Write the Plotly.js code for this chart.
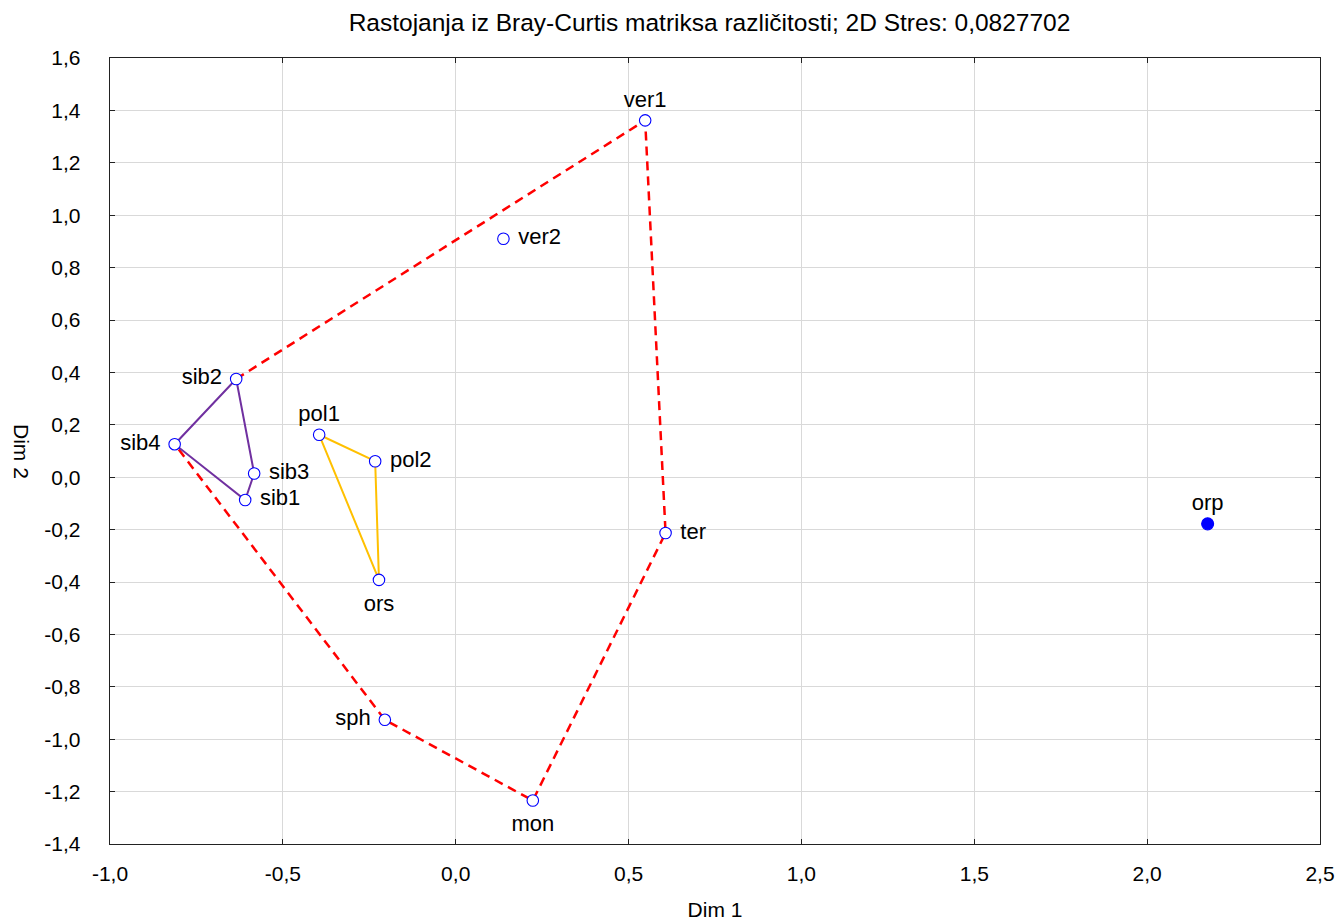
<!DOCTYPE html>
<html>
<head>
<meta charset="utf-8">
<script src="https://cdn.plot.ly/plotly-3.0.1.min.js"></script>
<style>html,body{margin:0;padding:0;background:#fff;}#chart{width:1342px;height:922px;}</style>
</head>
<body>
<div id="chart"></div>
<script>
// Sample names and NMDS coordinates (Dim 1, Dim 2)
const names = ["ver1","ver2","sib2","sib4","sib3","sib1","pol1","pol2","ors","ter","orp","sph","mon"];
const dim1  = [0.548, 0.138, -0.635, -0.813, -0.583, -0.609, -0.395, -0.233, -0.222, 0.607, 2.175, -0.205, 0.223];
const dim2  = [1.362, 0.910, 0.375, 0.126, 0.014, -0.087, 0.162, 0.061, -0.392, -0.213, -0.178, -0.926, -1.234];
const labelPos = ["top center","middle right","middle left","middle left","middle right","middle right","top center","middle right","bottom center","middle right","top center","middle left","bottom center"];
const filled = ["orp"];

// Group outlines (by sample name)
const hullRed    = ["sib2","ver1","ter","mon","sph","sib4"];
const hullPurple = ["sib2","sib4","sib1","sib3","sib2"];
const hullYellow = ["pol1","pol2","ors","pol1"];

const xTicks = [-1.0,-0.5,0.0,0.5,1.0,1.5,2.0,2.5];
const yTicks = [-1.4,-1.2,-1.0,-0.8,-0.6,-0.4,-0.2,0.0,0.2,0.4,0.6,0.8,1.0,1.2,1.4,1.6];
const fmt = v => v.toFixed(1).replace(".", ",");

function pathTrace(list, color, dash, width){
  return {
    type:"scatter", mode:"lines",
    x: list.map(n => dim1[names.indexOf(n)]),
    y: list.map(n => dim2[names.indexOf(n)]),
    line:{color:color, width:width, dash:dash},
    hoverinfo:"skip", showlegend:false
  };
}

const font = "Liberation Sans, Arial, sans-serif";
// label offset per position (via invisible marker size)
const offsetSize = {"top center":11, "bottom center":21, "middle right":22, "middle left":21};

const traces = [
  pathTrace(hullRed, "#ff0000", "9px,6px", 2.5),
  pathTrace(hullPurple, "#7030a0", "solid", 2),
  pathTrace(hullYellow, "#ffc000", "solid", 2),
  {
    type:"scatter", mode:"markers",
    x: dim1, y: dim2,
    marker:{
      opacity:1,
      size: names.map(n => filled.includes(n) ? 12 : 11.5),
      color: names.map(n => filled.includes(n) ? "#0000ff" : "#ffffff"),
      line:{color:"#0000ff", width:1.1}
    },
    showlegend:false
  },
  {
    type:"scatter", mode:"markers+text",
    x: dim1, y: dim2, text: names,
    textposition: labelPos,
    textfont:{family:font, size:22, color:"#000"},
    marker:{opacity:0, size: labelPos.map(p => offsetSize[p]), color:"#fff"},
    showlegend:false, hoverinfo:"skip"
  }
];

const axisCommon = {
  showgrid:true, gridcolor:"#d9d9d9", gridwidth:1,
  zeroline:false, showline:true, linecolor:"#222", linewidth:1.3,
  mirror:"allticks", ticks:"inside", ticklen:5, tickcolor:"#222",
  tickfont:{family:font, size:21, color:"#000"},
  tickmode:"array"
};

const layout = {
  width:1342, height:922,
  paper_bgcolor:"#fff", plot_bgcolor:"#fff",
  margin:{l:110, r:22, t:58, b:78},
  font:{family:font, color:"#000"},
  title:{text:"Rastojanja iz Bray-Curtis matriksa različitosti; 2D Stres: 0,0827702",
         font:{family:font, size:24.5, color:"#000"}, xref:"container", x:0.5287, xanchor:"center", y:0.976, yanchor:"middle"},
  xaxis:Object.assign({}, axisCommon, {
    range:[-1.0, 2.5], tickvals:xTicks, ticktext:xTicks.map(fmt), ticklabelstandoff:10,
    title:{text:"Dim 1", font:{family:font, size:21, color:"#000"}, standoff:18}
  }),
  yaxis:Object.assign({}, axisCommon, {
    range:[-1.4, 1.6], tickvals:yTicks, ticktext:yTicks.map(fmt), ticklabelstandoff:24
  }),
  annotations:[{
    text:"Dim 2", xref:"paper", yref:"paper", x:-0.0727, y:0.5,
    xanchor:"center", yanchor:"middle", textangle:90, showarrow:false,
    font:{family:font, size:21, color:"#000"}
  }]
};

Plotly.newPlot("chart", traces, layout, {displayModeBar:false, staticPlot:true});
</script>
</body>
</html>
